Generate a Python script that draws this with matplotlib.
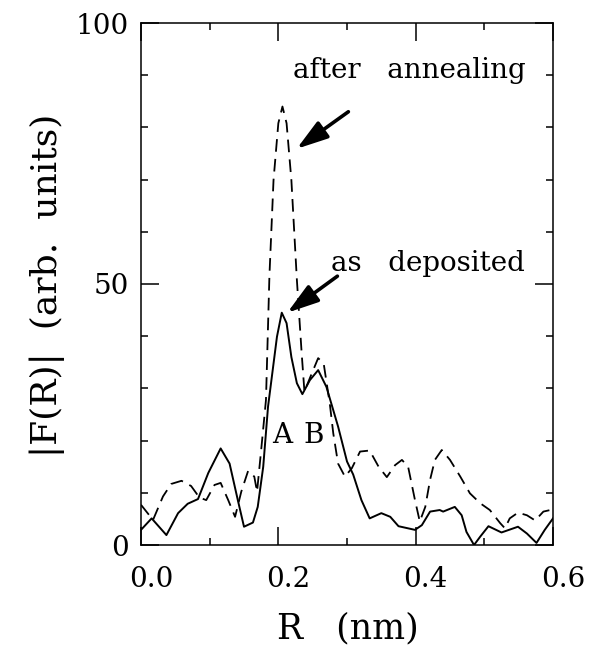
import matplotlib
matplotlib.use("Agg")
import matplotlib.pyplot as plt
from matplotlib.ticker import MultipleLocator, FixedLocator
from matplotlib.transforms import ScaledTranslation

# ---- data ----
r_dep = [0.000, 0.0155, 0.037, 0.054, 0.068, 0.083, 0.098, 0.116, 0.129, 0.141,
         0.150, 0.163, 0.170, 0.178, 0.185, 0.198, 0.205, 0.212, 0.219, 0.227,
         0.235, 0.246, 0.258, 0.270, 0.287, 0.300, 0.309, 0.321, 0.333, 0.350,
         0.363, 0.375, 0.399, 0.409, 0.421, 0.435, 0.440, 0.457, 0.467, 0.474,
         0.485, 0.494, 0.506, 0.525, 0.549, 0.562, 0.576, 0.588, 0.600]
f_dep = [2.9, 5.1, 1.9, 6.1, 7.9, 8.8, 13.8, 18.5, 15.6, 8.6,
         3.5, 4.3, 7.3, 15.0, 26.5, 39.9, 44.5, 42.5, 36.0, 31.0,
         28.9, 31.6, 33.5, 30.3, 22.7, 16.0, 13.5, 8.6, 5.1, 6.1,
         5.4, 3.6, 2.9, 3.8, 6.4, 6.7, 6.4, 7.3, 5.7, 2.5,
         0.0, 1.6, 3.6, 2.4, 3.5, 2.2, 0.4, 2.9, 5.1]

r_ann = [0.000, 0.0175, 0.032, 0.044, 0.059, 0.073, 0.085, 0.095, 0.107, 0.116,
         0.127, 0.137, 0.146, 0.156, 0.165, 0.169, 0.175, 0.182, 0.187, 0.193,
         0.200, 0.206, 0.212, 0.219, 0.227, 0.234, 0.238, 0.246, 0.258, 0.266,
         0.275, 0.280, 0.287, 0.297, 0.307, 0.319, 0.333, 0.346, 0.358, 0.370,
         0.380, 0.389, 0.399, 0.406, 0.414, 0.421, 0.428, 0.438, 0.450, 0.465,
         0.479, 0.494, 0.508, 0.523, 0.530, 0.537, 0.549, 0.562, 0.574, 0.586,
         0.596, 0.600]
f_ann = [7.7, 4.8, 9.3, 11.7, 12.3, 11.3, 9.1, 8.6, 11.5, 11.9,
         8.6, 5.4, 10.2, 14.2, 13.1, 10.2, 18.2, 27.8, 51.5, 69.9,
         80.8, 84.0, 80.8, 69.9, 50.8, 36.7, 29.4, 32.0, 35.8, 34.8,
         27.0, 21.4, 15.6, 13.1, 14.7, 17.9, 18.1, 15.0, 13.0, 15.3,
         16.3, 15.0, 8.6, 4.5, 7.3, 12.5, 16.3, 18.2, 16.3, 13.1,
         9.9, 8.0, 6.7, 4.2, 3.2, 5.1, 6.2, 5.7, 4.7, 6.4,
         6.7, 6.9]

x_ticklabels = ["0.0", "0.2", "0.4", "0.6"]
y_ticklabels = ["0", "50", "100"]

FONT = "DejaVu Serif"
plt.rcParams["font.family"] = FONT

fig = plt.figure(figsize=(5.92, 6.46), dpi=100)
ax = fig.add_axes([141/592, 1 - 545/646, 412/592, 522/646])

ax.plot(r_dep, f_dep, color="black", lw=1.4, solid_joinstyle="round")
ax.plot(r_ann, f_ann, color="black", lw=1.3, dashes=(7, 4))

ax.set_xlim(0, 0.6)
ax.set_ylim(0, 100)

ax.xaxis.set_major_locator(FixedLocator([0.0, 0.2, 0.4, 0.6]))
ax.xaxis.set_minor_locator(MultipleLocator(0.1))
ax.yaxis.set_major_locator(FixedLocator([0, 50, 100]))
ax.yaxis.set_minor_locator(MultipleLocator(10))
ax.set_xticklabels(x_ticklabels)
ax.set_yticklabels(y_ticklabels)

ax.tick_params(which="both", direction="in", top=True, right=True, width=1.1)
ax.tick_params(which="major", length=13)
ax.tick_params(which="minor", length=5)
ax.tick_params(axis="x", which="major", pad=15, labelsize=20)
ax.tick_params(axis="y", which="major", pad=9, labelsize=20)
for s in ax.spines.values():
    s.set_linewidth(1.1)

off = ScaledTranslation(10/100, 0, fig.dpi_scale_trans)
for lab in ax.get_xticklabels():
    lab.set_transform(lab.get_transform() + off)

fig.text(348/592, 1 - 638/646, "R   (nm)", ha="center", va="baseline", fontsize=25)
fig.text(47/592, 1 - 285/646, "|F(R)|  (arb.  units)", ha="center", va="center",
         rotation=90, fontsize=26)

ax.text(0.2209, 89.4, "after   annealing", ha="left", va="baseline", fontsize=20)
ax.text(0.2762, 52.5, "as   deposited", ha="left", va="baseline", fontsize=20)
ax.text(0.206, 19.5, "A", ha="center", va="baseline", fontsize=20)
ax.text(0.251, 19.5, "B", ha="center", va="baseline", fontsize=20)

aprops = dict(arrowstyle="-|>,head_length=0.95,head_width=0.3", lw=2.6,
              color="black", mutation_scale=20, shrinkA=0, shrinkB=0)
ax.annotate("", xy=(0.2267, 75.9), xytext=(0.302, 83.0), arrowprops=aprops)
ax.annotate("", xy=(0.213, 44.5), xytext=(0.286, 51.5), arrowprops=aprops)

fig.savefig("out.png", dpi=100)
